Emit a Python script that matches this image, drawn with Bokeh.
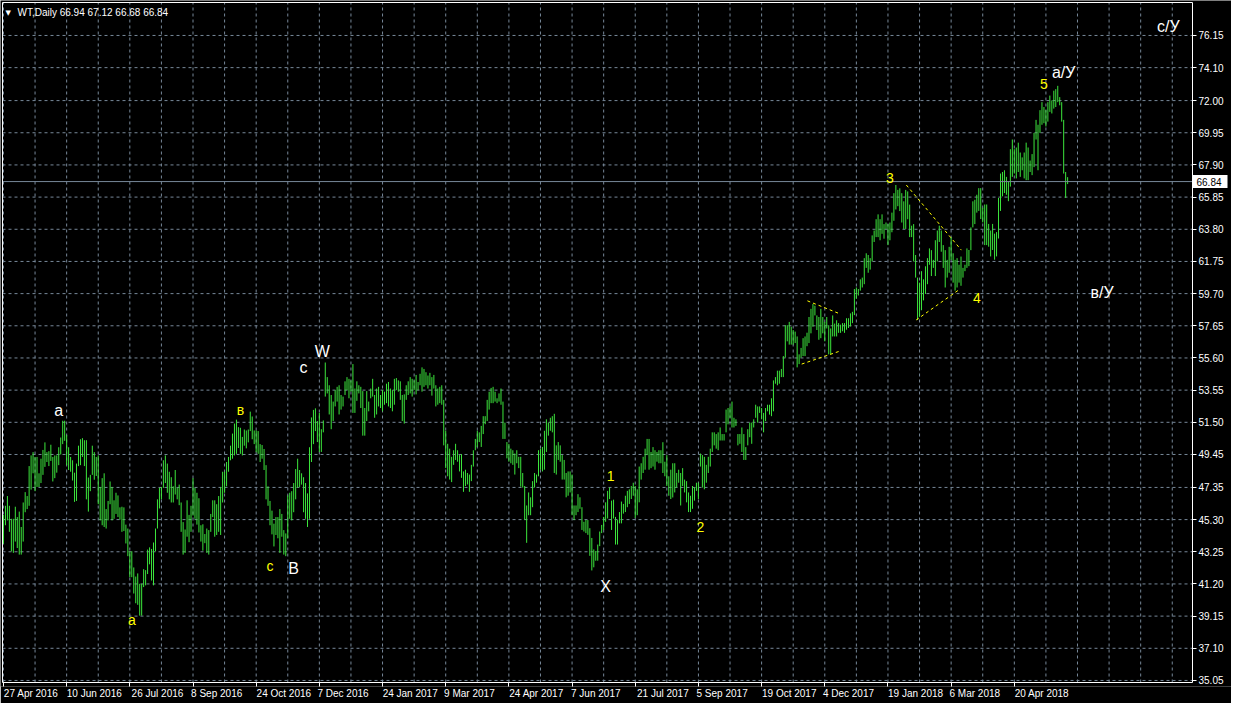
import pandas as pd
from bokeh.plotting import figure
from bokeh.models import (ColumnDataSource, Range1d, FixedTicker, Label,
                          PrintfTickFormatter, LinearAxis)
from bokeh.core.properties import value
from bokeh.embed import file_html
from bokeh.resources import INLINE

# ---------------- data ----------------
SYMBOL = "WT,Daily"
FIRST_DATE = "2016-04-27"
CLOSED_DAYS = ["2016-12-26", "2017-01-02", "2017-12-25", "2018-01-01", "2018-03-30"]

HIGH = [
    45.60, 46.18, 46.80, 46.18, 45.35, 45.35, 46.12, 45.46, 45.81, 44.83,   # 0
    46.39, 47.05, 46.80, 48.71, 49.39, 49.60, 49.29, 49.29, 48.25, 49.18,   # 10
    49.74, 50.22, 49.60, 49.66, 50.07, 49.29, 49.39, 49.39, 49.91, 50.53,   # 20
    51.60, 51.60, 50.69, 49.91, 49.29, 49.08, 48.29, 48.87, 50.01, 50.42,   # 30
    50.49, 50.36, 50.36, 47.98, 48.15, 50.01, 49.60, 49.29, 49.39, 47.38,   # 40
    47.94, 48.25, 45.97, 46.49, 47.73, 47.38, 46.53, 47.01, 46.84, 46.08,   # 50
    46.12, 46.08, 44.98, 44.73, 43.28, 43.28, 42.25, 41.67, 41.87, 41.21,   # 60
    41.21, 42.14, 42.08, 43.39, 43.53, 43.43, 43.84, 44.73, 46.59, 47.32,   # 70
    47.38, 49.08, 49.39, 48.87, 48.35, 48.00, 47.42, 48.46, 47.32, 47.53,   # 80
    46.39, 45.14, 44.67, 46.53, 45.60, 46.18, 47.94, 47.32, 47.01, 46.66,   # 90
    44.94, 45.00, 44.38, 44.73, 44.63, 45.66, 46.53, 46.53, 46.28, 46.80,   # 100
    47.38, 48.35, 48.35, 48.97, 49.29, 50.01, 50.78, 51.42, 51.67, 51.19,   # 110
    51.15, 50.57, 51.04, 50.98, 51.04, 52.18, 51.87, 50.98, 50.98, 50.94,   # 120
    50.11, 50.05, 49.80, 48.77, 47.42, 46.49, 45.87, 45.04, 45.46, 45.46,   # 130
    45.97, 45.66, 44.63, 44.42, 46.84, 47.01, 47.11, 47.63, 48.52, 49.18,   # 140
    48.46, 48.25, 48.00, 47.63, 46.97, 49.91, 51.81, 52.29, 52.39, 51.58,   # 150
    52.10, 51.06, 51.62, 55.31, 54.38, 53.86, 53.24, 52.82, 53.55, 53.76,   # 160
    53.86, 53.24, 53.14, 54.11, 54.38, 54.27, 54.17, 55.21, 53.65, 54.11,   # 170
    53.86, 53.76, 53.49, 52.41, 53.49, 52.82, 53.65, 54.27, 53.24, 53.65,   # 180
    53.76, 53.24, 53.55, 53.45, 53.96, 54.07, 53.65, 53.55, 54.27, 54.32,   # 190
    54.17, 54.11, 53.24, 53.28, 53.86, 54.11, 54.38, 54.27, 54.17, 54.52,   # 200
    54.07, 54.59, 55.00, 54.90, 54.69, 54.48, 54.65, 54.38, 54.52, 53.86,   # 210
    53.65, 53.76, 53.86, 52.93, 50.96, 50.13, 49.82, 49.30, 49.72, 50.13,   # 220
    49.72, 49.41, 49.47, 48.37, 48.48, 48.27, 48.17, 48.79, 49.72, 50.44,   # 230
    50.96, 50.86, 51.27, 51.89, 51.89, 52.93, 53.45, 53.69, 53.76, 53.45,   # 240
    53.03, 53.34, 53.65, 52.82, 51.48, 50.24, 50.13, 49.82, 49.72, 49.51,   # 250
    49.72, 49.30, 49.30, 48.27, 47.44, 46.20, 47.03, 46.72, 47.75, 48.27,   # 260
    48.17, 49.72, 49.82, 49.93, 50.96, 51.69, 51.48, 51.79, 51.89, 52.04,   # 270
    50.03, 50.24, 50.03, 49.41, 49.10, 48.27, 48.37, 48.37, 48.17, 46.20,   # 280
    46.20, 46.92, 46.72, 46.09, 45.16, 45.27, 45.27, 44.75, 44.13, 43.40,   # 290
    43.30, 43.71, 44.54, 44.96, 45.47, 46.40, 47.13, 47.34, 46.51, 46.57,   # 300
    45.47, 45.27, 45.78, 46.45, 46.30, 46.82, 47.13, 47.23, 47.44, 47.65,   # 310
    47.44, 47.23, 48.68, 48.89, 49.30, 49.82, 50.44, 50.44, 49.61, 49.92,   # 320
    49.72, 49.61, 49.72, 49.72, 50.23, 48.99, 49.41, 48.06, 48.48, 48.89,   # 330
    48.89, 48.27, 48.48, 48.27, 48.58, 47.85, 47.75, 47.03, 46.82, 47.44,   # 340
    47.34, 47.65, 47.65, 49.51, 49.41, 49.30, 48.79, 49.30, 49.82, 50.86,   # 350
    50.86, 50.75, 50.86, 51.17, 50.75, 50.75, 52.31, 52.41, 52.51, 52.82,   # 360
    51.79, 51.69, 50.75, 50.75, 51.17, 50.75, 49.92, 51.06, 51.48, 51.48,   # 370
    51.69, 52.62, 52.51, 52.51, 52.41, 52.10, 52.41, 52.62, 52.62, 53.03,   # 380
    54.17, 54.38, 54.79, 54.79, 54.90, 55.72, 57.69, 57.69, 57.90, 57.59,   # 390
    57.38, 57.28, 56.97, 55.83, 56.24, 56.86, 56.97, 57.21, 58.21, 58.73,   # 400
    59.04, 58.93, 58.31, 58.21, 58.73, 58.21, 57.90, 58.21, 57.69, 57.48,   # 410
    58.31, 57.79, 58.00, 57.82, 57.72, 57.82, 57.82, 58.13, 58.13, 58.44,   # 420
    58.54, 59.99, 60.09, 59.99, 60.61, 60.72, 61.96, 62.27, 62.16, 61.96,   # 430
    63.41, 63.72, 64.44, 64.75, 64.44, 64.75, 64.13, 64.23, 64.13, 64.23,   # 440
    64.86, 66.10, 66.62, 66.31, 66.41, 66.10, 65.58, 66.31, 66.21, 65.37,   # 450
    64.03, 64.13, 62.16, 60.72, 60.40, 61.13, 60.61, 61.44, 61.96, 62.58,   # 460
    62.47, 61.85, 63.10, 63.72, 64.03, 63.72, 62.79, 62.47, 61.85, 62.68,   # 470
    63.30, 62.27, 61.85, 61.96, 61.54, 62.06, 61.34, 61.54, 62.58, 62.48,   # 480
    63.92, 65.58, 65.68, 66.00, 66.42, 66.42, 65.17, 65.38, 65.38, 64.14,   # 490
    63.72, 64.14, 63.52, 63.62, 65.80, 67.35, 67.45, 67.56, 67.14, 66.83,   # 500
    68.90, 69.52, 68.90, 69.01, 69.32, 68.69, 68.38, 68.69, 69.32, 69.01,   # 510
    68.18, 68.59, 69.94, 70.77, 70.46, 71.39, 71.90, 71.59, 71.39, 71.90,   # 520
    72.32, 72.01, 72.63, 72.73, 72.94, 72.22, 71.90, 70.77, 67.45, 67.12,   # 530
]

LOW = [
    43.76, 44.94, 45.25, 44.52, 43.28, 43.18, 43.90, 43.49, 43.07, 43.07,   # 0
    43.90, 45.77, 45.97, 46.18, 47.21, 48.25, 47.11, 47.38, 47.38, 47.63,   # 10
    48.15, 48.66, 48.97, 48.71, 49.04, 47.73, 47.94, 48.29, 48.77, 49.45,   # 20
    50.11, 50.32, 48.77, 48.46, 48.35, 47.79, 46.43, 46.49, 48.71, 48.77,   # 30
    49.29, 48.71, 46.59, 45.81, 47.11, 48.15, 47.84, 48.08, 46.28, 45.25,   # 40
    44.94, 44.83, 44.73, 45.25, 46.28, 45.25, 45.35, 45.66, 45.46, 45.29,   # 50
    44.52, 44.57, 43.78, 42.97, 41.63, 41.63, 40.59, 39.97, 39.87, 39.18,   # 60
    39.18, 41.00, 41.11, 41.83, 42.45, 41.42, 41.11, 43.28, 44.73, 46.01,   # 70
    46.59, 47.32, 47.63, 47.01, 46.59, 46.39, 46.39, 46.90, 46.59, 46.22,   # 80
    44.52, 43.07, 43.18, 44.21, 43.86, 44.52, 45.56, 45.35, 44.98, 44.48,   # 90
    43.90, 43.32, 43.80, 43.18, 43.07, 44.52, 45.46, 44.21, 44.32, 44.52,   # 100
    44.32, 46.39, 47.01, 47.42, 48.35, 49.08, 49.18, 49.39, 49.49, 49.86,   # 110
    49.49, 49.39, 50.01, 49.84, 50.22, 50.94, 50.42, 50.11, 49.60, 49.49,   # 120
    48.97, 49.18, 48.46, 46.59, 46.18, 44.94, 44.36, 43.59, 44.32, 44.11,   # 130
    43.18, 44.21, 43.07, 42.97, 44.11, 45.35, 45.25, 45.77, 46.59, 47.32,   # 140
    47.38, 47.53, 45.77, 45.35, 44.83, 45.35, 48.97, 50.11, 50.94, 50.24,   # 150
    49.61, 49.61, 50.86, 53.14, 53.34, 52.00, 51.06, 51.58, 52.51, 52.82,   # 160
    52.00, 52.31, 52.51, 53.24, 53.55, 53.03, 53.45, 52.10, 52.10, 52.87,   # 170
    53.34, 52.41, 50.65, 50.65, 51.58, 52.20, 53.03, 53.14, 51.79, 52.00,   # 180
    52.51, 52.41, 52.20, 52.62, 52.72, 52.51, 52.41, 52.20, 52.62, 53.55,   # 190
    53.45, 52.93, 51.58, 51.42, 52.93, 53.24, 53.34, 53.14, 53.55, 53.28,   # 200
    53.55, 53.86, 53.45, 53.76, 53.86, 53.65, 53.86, 53.20, 53.65, 52.51,   # 210
    52.62, 52.72, 52.62, 50.03, 48.58, 48.06, 47.85, 47.69, 48.79, 49.10,   # 220
    48.99, 48.37, 47.96, 47.07, 47.44, 47.54, 47.07, 47.75, 48.68, 49.72,   # 230
    49.93, 50.24, 49.93, 50.75, 51.38, 51.58, 52.31, 52.72, 52.72, 52.82,   # 240
    52.72, 52.82, 52.62, 50.44, 50.44, 49.20, 48.99, 48.89, 48.79, 48.17,   # 250
    48.89, 48.58, 47.40, 47.34, 45.27, 43.82, 45.58, 45.58, 46.09, 47.34,   # 260
    47.65, 48.06, 48.48, 48.37, 48.48, 49.61, 50.65, 50.96, 50.86, 48.27,   # 270
    48.17, 49.10, 48.99, 47.85, 47.85, 46.72, 46.82, 47.03, 45.58, 45.27,   # 280
    45.58, 45.78, 45.99, 44.64, 44.54, 44.44, 44.33, 42.99, 42.06, 42.26,   # 290
    42.68, 42.68, 43.61, 44.44, 44.64, 45.16, 45.37, 46.61, 44.64, 45.37,   # 300
    43.71, 43.71, 45.06, 45.06, 45.68, 45.78, 46.09, 46.30, 46.61, 46.82,   # 310
    45.41, 45.58, 46.40, 47.85, 48.27, 48.48, 49.41, 48.48, 48.58, 48.68,   # 320
    48.48, 48.99, 48.89, 48.89, 48.27, 48.06, 47.44, 46.82, 46.61, 46.71,   # 330
    47.03, 47.34, 47.65, 46.20, 47.44, 47.03, 46.40, 45.78, 45.78, 45.99,   # 340
    46.51, 47.13, 46.61, 48.68, 47.34, 47.23, 47.65, 48.27, 48.68, 49.61,   # 350
    50.03, 49.82, 49.72, 50.34, 50.34, 50.34, 50.86, 51.37, 51.79, 51.17,   # 360
    51.17, 51.27, 50.03, 50.13, 49.61, 49.10, 49.10, 50.03, 50.55, 50.13,   # 370
    51.17, 51.79, 51.48, 52.10, 51.69, 50.86, 51.58, 52.20, 51.99, 51.89,   # 380
    52.20, 53.96, 53.86, 53.96, 54.38, 54.38, 55.62, 56.66, 56.45, 56.45,   # 390
    56.45, 56.55, 55.00, 55.21, 55.62, 55.72, 55.72, 56.35, 56.55, 57.17,   # 400
    57.59, 58.31, 57.38, 56.76, 56.86, 57.17, 56.66, 57.48, 55.83, 55.83,   # 410
    56.97, 56.97, 56.97, 57.20, 57.20, 57.30, 57.20, 57.40, 57.51, 57.61,   # 420
    57.82, 58.33, 59.37, 59.58, 59.89, 60.09, 60.30, 61.34, 61.03, 61.23,   # 430
    61.75, 62.99, 63.30, 63.30, 63.10, 63.51, 63.20, 63.82, 62.79, 63.10,   # 440
    63.61, 64.34, 65.06, 65.27, 64.96, 64.23, 63.82, 63.82, 64.44, 63.30,   # 450
    63.30, 61.75, 60.72, 58.02, 58.23, 58.64, 59.27, 59.68, 60.30, 61.54,   # 460
    60.82, 61.34, 60.82, 61.75, 62.99, 62.37, 61.34, 60.09, 60.72, 61.03,   # 470
    61.85, 60.40, 59.89, 60.09, 60.40, 60.20, 60.72, 61.13, 61.34, 61.45,   # 480
    62.47, 63.92, 64.13, 64.86, 64.97, 64.45, 64.24, 62.79, 62.79, 62.69,   # 490
    62.07, 62.48, 61.86, 62.07, 63.21, 64.97, 65.90, 66.11, 66.00, 65.59,   # 500
    66.52, 67.14, 67.35, 67.04, 67.45, 67.14, 67.56, 67.04, 66.93, 66.93,   # 510
    67.45, 67.25, 67.76, 69.52, 67.56, 69.94, 70.46, 70.56, 70.35, 70.66,   # 520
    71.28, 71.18, 71.49, 71.59, 71.90, 71.70, 70.66, 67.35, 65.80, 66.68,   # 530
]

LAST_OHLC = [66.94, 67.12, 66.68, 66.84]

DATE_LABELS = ["27 Apr 2016", "10 Jun 2016", "26 Jul 2016", "8 Sep 2016", "24 Oct 2016",
               "7 Dec 2016", "24 Jan 2017", "9 Mar 2017", "24 Apr 2017", "7 Jun 2017",
               "21 Jul 2017", "5 Sep 2017", "19 Oct 2017", "4 Dec 2017", "19 Jan 2018",
               "6 Mar 2018", "20 Apr 2018"]

PRICE_TICKS = [76.15, 74.10, 72.00, 69.95, 67.90, 65.85, 63.80, 61.75, 59.70, 57.65, 55.60,
               53.55, 51.50, 49.45, 47.35, 45.30, 43.25, 41.20, 39.15, 37.10, 35.05]

# wave marks: text, bar number, price, major (white) or minor (yellow)
WAVE_TEXT = ["a", "a", "в", "c", "В", "c", "W", "1", "X", "2", "3", "4", "5", "а/У", "в/У", "с/У"]
WAVE_BAR = [28, 65, 120, 135, 147, 152, 161.5, 307.5, 305, 353, 449, 493, 527, 537, 556.5, 590]
WAVE_PRICE = [52.27, 38.93, 52.27, 42.36, 42.17, 55.01, 56.01, 48.10, 41.05, 44.85,
              67.04, 59.44, 73.08, 73.76, 59.75, 76.75]
WAVE_MAJOR = [True, False, False, False, True, True, True, False, True, False,
              False, False, False, True, True, True]

# dashed triangle sides: bar/price start and end
TRI_BAR0 = [407.2, 404.3, 457.3, 462.3]
TRI_P0 = [59.24, 55.21, 66.62, 58.02]
TRI_BAR1 = [422.7, 423.5, 485.2, 483.8]
TRI_P1 = [58.46, 56.03, 62.47, 59.93]

# visible chart window (bar numbers / prices)
CHART_X0, CHART_X1 = -0.49, 602.25
CHART_Y0, CHART_Y1 = 34.92, 78.25

# ---------------- styles / layout ----------------
BG = "black"
BAR_COLOR = "#3CE63C"
GRID_COLOR = "#778899"
FONT = "Liberation Sans"
W, H = 1231, 703
CHART_PX_W, CHART_PX_H = 1190, 680      # chart box inside the frame
PAD_L, PAD_T, PAD_B = 2, 2, 4           # frame space round the chart box
BOTTOM = 17                             # date axis band

n = len(HIGH)
dates = pd.bdate_range(FIRST_DATE, periods=n, freq="C", holidays=CLOSED_DAYS)
bar_no = list(range(n))

px_bar = CHART_PX_W / (CHART_X1 - CHART_X0)
px_unit = CHART_PX_H / (CHART_Y1 - CHART_Y0)
x_range = Range1d(CHART_X0 - PAD_L / px_bar, CHART_X0 + (W - PAD_L) / px_bar)
y_range = Range1d(CHART_Y0 - PAD_B / px_unit, CHART_Y1 + PAD_T / px_unit)

p = figure(width=W, height=H, x_range=x_range, y_range=y_range,
           output_backend="svg", toolbar_location=None, y_axis_location=None,
           background_fill_color=BG, border_fill_color=BG, outline_line_color=None,
           min_border=0, min_border_left=0, min_border_top=0, min_border_right=0,
           min_border_bottom=BOTTOM)
p.xgrid.visible = False
p.ygrid.visible = False

# grid (dashed), kept inside the chart box
vgrid = [g for g in range(0, n + 64, 16) if g < CHART_X1]
p.segment(x0=vgrid, y0=[CHART_Y0] * len(vgrid), x1=vgrid, y1=[CHART_Y1] * len(vgrid),
          line_color=GRID_COLOR, line_width=1, line_dash="3 3")
p.segment(x0=[CHART_X0] * len(PRICE_TICKS), y0=PRICE_TICKS,
          x1=[CHART_X1] * len(PRICE_TICKS), y1=PRICE_TICKS,
          line_color=GRID_COLOR, line_width=1, line_dash="3 3")

# bars
src = ColumnDataSource(dict(x=bar_no, high=HIGH, low=LOW, date=dates))
p.segment(x0="x", y0="low", x1="x", y1="high", source=src, line_color=BAR_COLOR, line_width=1)

# current price line
p.segment(x0=[CHART_X0], y0=[LAST_OHLC[3]], x1=[CHART_X1], y1=[LAST_OHLC[3]],
          line_color=GRID_COLOR, line_width=1)

# chart border
p.segment(x0=[CHART_X0, CHART_X0, CHART_X0, CHART_X1],
          y0=[CHART_Y0, CHART_Y1, CHART_Y0, CHART_Y0],
          x1=[CHART_X1, CHART_X1, CHART_X0, CHART_X1],
          y1=[CHART_Y0, CHART_Y1, CHART_Y1, CHART_Y1],
          line_color="white", line_width=1)

# dashed triangles
tri = ColumnDataSource(dict(x0=TRI_BAR0, y0=TRI_P0, x1=TRI_BAR1, y1=TRI_P1))
p.segment(x0="x0", y0="y0", x1="x1", y1="y1", source=tri, line_color="#FFFF00",
          line_width=1, line_dash="3 3")

# wave labels
wsrc = ColumnDataSource(dict(
    x=WAVE_BAR, y=WAVE_PRICE, text=WAVE_TEXT,
    color=["white" if m else "#FFFF00" for m in WAVE_MAJOR],
    size=["16px" if m else "14px" for m in WAVE_MAJOR]))
p.text(x="x", y="y", text="text", source=wsrc, text_color="color", text_font_size="size",
       text_align="center", text_baseline="middle", text_font=value(FONT))

# price axis pinned to the chart's right edge
ya = LinearAxis(fixed_location=CHART_X1, ticker=FixedTicker(ticks=PRICE_TICKS),
                formatter=PrintfTickFormatter(format="%.2f"))
ya.axis_line_color = None
ya.major_tick_out = 4
ya.major_tick_in = 0
ya.minor_tick_line_color = None
ya.major_tick_line_color = "white"
ya.major_label_text_color = "white"
ya.major_label_text_font = FONT
ya.major_label_text_font_size = "10px"
ya.major_label_standoff = 2
p.add_layout(ya, "right")

# current price tag: one tick drawn as a white box, its label in black
tag = LinearAxis(fixed_location=CHART_X1, ticker=FixedTicker(ticks=[LAST_OHLC[3]]),
                 formatter=PrintfTickFormatter(format="%.2f"))
tag.axis_line_color = None
tag.minor_tick_line_color = None
tag.major_tick_line_color = "white"
tag.major_tick_line_width = 13
tag.major_tick_line_cap = "butt"
tag.major_tick_in = 0
tag.major_tick_out = 35
tag.major_label_standoff = -31
tag.major_label_text_color = "black"
tag.major_label_text_font = FONT
tag.major_label_text_font_size = "10px"
p.add_layout(tag, "right")

# date axis: tick marks at label dates (minor ticks), label text starting at each mark
xa = p.xaxis[0]
tick_pos = [int(dates.searchsorted(pd.to_datetime(d, format="%d %b %Y"))) for d in DATE_LABELS]
label_pos = [t + int(round(len(d) * 1.25)) for t, d in zip(tick_pos, DATE_LABELS)]
xa.ticker = FixedTicker(ticks=label_pos, minor_ticks=tick_pos)
xa.major_label_overrides = {c: d for c, d in zip(label_pos, DATE_LABELS)}
xa.major_tick_line_color = None
xa.major_tick_out = 0
xa.major_tick_in = 0
xa.minor_tick_out = 0
xa.minor_tick_in = PAD_B
xa.minor_tick_line_color = "white"
xa.axis_line_color = None
xa.major_label_text_color = "white"
xa.major_label_text_font = FONT
xa.major_label_text_font_size = "10px"
xa.major_label_standoff = 1

# chart caption
p.add_layout(Label(x=CHART_X0, y=CHART_Y1, x_offset=3, y_offset=-6, text="▼",
                   text_color="white", text_font="DejaVu Sans", text_font_size="7px",
                   text_baseline="top", text_align="left"))
p.add_layout(Label(x=CHART_X0, y=CHART_Y1, x_offset=15, y_offset=-4,
                   text="%s  %.2f %.2f %.2f %.2f" % (SYMBOL, *LAST_OHLC),
                   text_color="white", text_font=FONT, text_font_size="10px",
                   text_baseline="top", text_align="left"))

open("out.html", "w").write(file_html(p, INLINE, title="WT,Daily"))
